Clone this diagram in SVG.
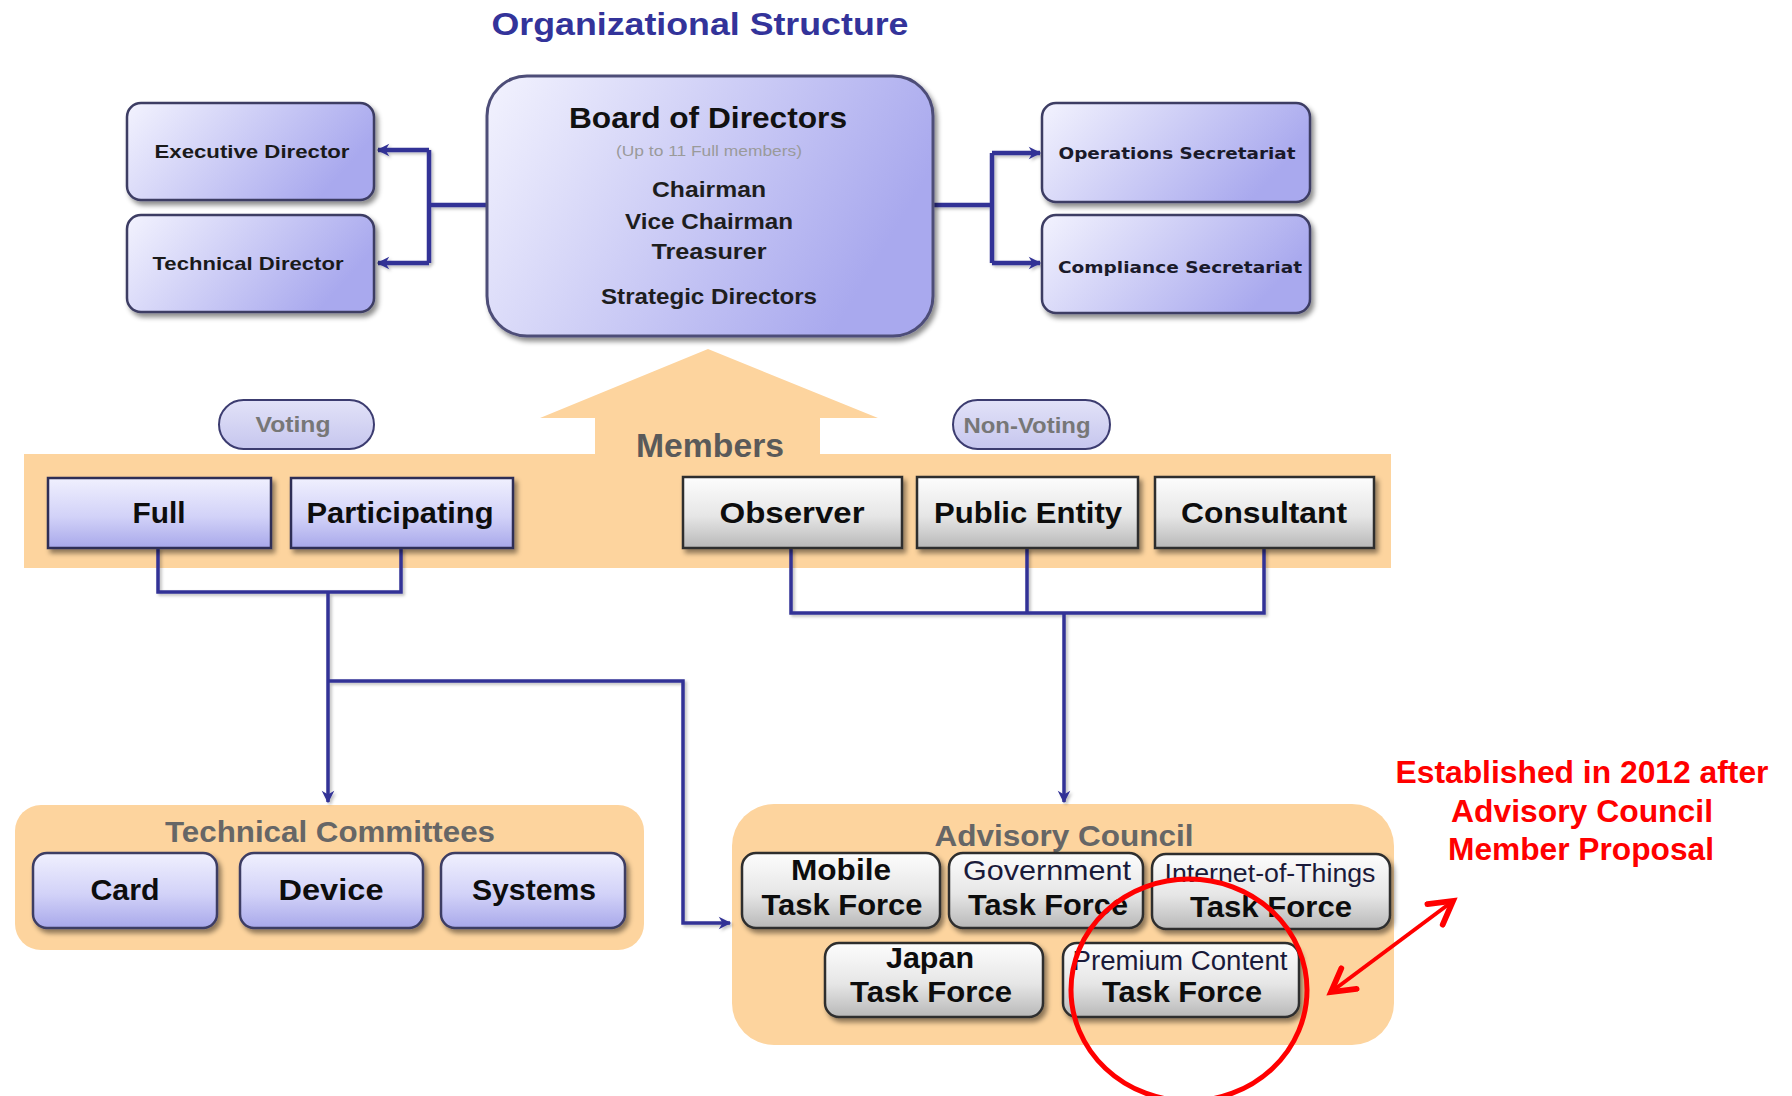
<svg xmlns="http://www.w3.org/2000/svg" width="1792" height="1096" viewBox="0 0 1792 1096">
<style>
text{font-family:"Liberation Sans",Arial,sans-serif;text-anchor:middle}
.b{font-weight:bold}
.title{font-size:32px;font-weight:bold;fill:#33339a}
.dir{font-size:19px;font-weight:bold;fill:#1a1a1a}
.sec{font-family:"DejaVu Sans","Liberation Sans",sans-serif;font-size:16.5px;font-weight:bold;fill:#1a1a2a}
.bod{font-size:22px;font-weight:bold;fill:#1e1e1e}
.mem{font-size:30px;font-weight:bold;fill:#0d0d0d}
.hdr{font-size:30px;font-weight:bold;fill:#666}
.pilltxt{font-size:22px;font-weight:bold;fill:#777}
.tf{font-size:30px;font-weight:bold;fill:#0d0d0d}
.tfr{font-weight:normal;fill:#1a1a3a}
.red{font-size:31px;font-weight:bold;fill:#ff0000}
.lav{stroke:#3c3c64;stroke-width:2.5}
.gry{stroke:#2e2e2e;stroke-width:2.5}
.panel{fill:#fdd49e}
.con{fill:none;stroke:#323296;stroke-linejoin:miter}
</style>
<defs>
<linearGradient id="gLavH" x1="0" y1="0" x2="1" y2="0.35">
<stop offset="0" stop-color="#f3f3fe"/><stop offset="1" stop-color="#a9a9ee"/>
</linearGradient>
<linearGradient id="gLavV" x1="0" y1="0" x2="0" y2="1">
<stop offset="0" stop-color="#f0f0fe"/><stop offset="0.55" stop-color="#d2d2f8"/><stop offset="1" stop-color="#a8a8ea"/>
</linearGradient>
<linearGradient id="gGray" x1="0" y1="0" x2="0" y2="1">
<stop offset="0" stop-color="#fdfdfd"/><stop offset="0.55" stop-color="#e6e6e6"/><stop offset="1" stop-color="#b8b8b8"/>
</linearGradient>
<linearGradient id="gPill" x1="0" y1="0" x2="0" y2="1">
<stop offset="0" stop-color="#e2e2f8"/><stop offset="1" stop-color="#c6c6ee"/>
</linearGradient>
<filter id="sh" x="-10%" y="-10%" width="125%" height="135%">
<feDropShadow dx="3" dy="4" stdDeviation="2.5" flood-color="#000" flood-opacity="0.45"/>
</filter>
<filter id="lsh" x="-5%" y="-5%" width="115%" height="115%">
<feDropShadow dx="2" dy="2" stdDeviation="1.5" flood-color="#000" flood-opacity="0.25"/>
</filter>
<marker id="ah" viewBox="0 0 12 12" refX="10" refY="6" markerWidth="15" markerHeight="15" markerUnits="userSpaceOnUse" orient="auto">
<path d="M1,1 L11,6 L1,11 L4,6 z" fill="#323296"/>
</marker>
<marker id="ahr" viewBox="0 0 10 10" refX="8" refY="5" markerWidth="8" markerHeight="8" orient="auto-start-reverse">
<path d="M1,1 L8,5 L1,9" fill="none" stroke="#ff0000" stroke-width="1.8" stroke-linecap="round"/>
</marker>
</defs>

<rect width="1792" height="1096" fill="#ffffff"/>

<text class="title" x="700" y="35" textLength="417" lengthAdjust="spacingAndGlyphs">Organizational  Structure</text>

<!-- Members band and up arrow -->
<g id="members-band">
<rect class="panel" x="24" y="454" width="1367" height="114"/>
<polygon class="panel" points="540,418 708,349 878,418 820,418 820,455 595,455 595,418"/>
<text class="hdr" x="710" y="457" textLength="148" lengthAdjust="spacingAndGlyphs" style="font-size:33px;fill:#5a5a5a">Members</text>
</g>

<!-- panels -->
<g id="technical-committees">
<rect class="panel" x="15" y="805" width="629" height="145" rx="26"/>
<text class="hdr" x="330" y="842" textLength="330" lengthAdjust="spacingAndGlyphs">Technical Committees</text>
</g>
<g id="advisory-council">
<rect class="panel" x="732" y="804" width="662" height="241" rx="42"/>
<text class="hdr" x="1064" y="846" textLength="259" lengthAdjust="spacingAndGlyphs">Advisory  Council</text>
</g>

<!-- connectors -->
<g id="connectors" filter="url(#lsh)">
<path class="con" stroke-width="4.5" d="M487,205 H429 M429,150 V263"/>
<path class="con" stroke-width="4.5" d="M429,150 H378" marker-end="url(#ah)"/>
<path class="con" stroke-width="4.5" d="M429,263 H378" marker-end="url(#ah)"/>
<path class="con" stroke-width="4.5" d="M933,205 H992 M992,153 V263"/>
<path class="con" stroke-width="4.5" d="M992,153 H1040" marker-end="url(#ah)"/>
<path class="con" stroke-width="4.5" d="M992,263 H1040" marker-end="url(#ah)"/>
<path class="con" stroke-width="3.5" d="M158,548 V592 H401 V548"/>
<path class="con" stroke-width="3.5" d="M328,592 V802" marker-end="url(#ah)"/>
<path class="con" stroke-width="3.5" d="M328,681 H683 V923 H730" marker-end="url(#ah)"/>
<path class="con" stroke-width="3.5" d="M791,548 V613 H1264 V548 M1027,548 V613"/>
<path class="con" stroke-width="3.5" d="M1064,613 V802" marker-end="url(#ah)"/>
</g>

<!-- top nodes -->
<g id="executive-director">
<rect class="lav" x="127" y="103" width="247" height="97" rx="14" fill="url(#gLavH)" filter="url(#sh)"/>
<text class="dir" x="252" y="158" textLength="195" lengthAdjust="spacingAndGlyphs">Executive Director</text>
</g>
<g id="technical-director">
<rect class="lav" x="127" y="215" width="247" height="97" rx="14" fill="url(#gLavH)" filter="url(#sh)"/>
<text class="dir" x="248" y="270" textLength="191" lengthAdjust="spacingAndGlyphs">Technical Director</text>
</g>
<g id="board-of-directors">
<rect x="487" y="76" width="446" height="260" rx="40" fill="url(#gLavH)" stroke="#4e4e78" stroke-width="3" filter="url(#sh)"/>
<text class="b" x="708" y="128" style="font-size:30px;fill:#111" textLength="278" lengthAdjust="spacingAndGlyphs">Board of Directors</text>
<text x="709" y="156" style="font-size:15px;fill:#9a9a9a" textLength="186" lengthAdjust="spacingAndGlyphs">(Up to 11  Full members)</text>
<text class="bod" x="709" y="197" textLength="114" lengthAdjust="spacingAndGlyphs">Chairman</text>
<text class="bod" x="709" y="229" textLength="168" lengthAdjust="spacingAndGlyphs">Vice Chairman</text>
<text class="bod" x="709" y="259" textLength="115" lengthAdjust="spacingAndGlyphs">Treasurer</text>
<text class="bod" x="709" y="304" textLength="216" lengthAdjust="spacingAndGlyphs">Strategic Directors</text>
</g>
<g id="operations-secretariat">
<rect class="lav" x="1042" y="103" width="268" height="99" rx="14" fill="url(#gLavH)" filter="url(#sh)"/>
<text class="sec" x="1177" y="159" textLength="237" lengthAdjust="spacingAndGlyphs">Operations  Secretariat</text>
</g>
<g id="compliance-secretariat">
<rect class="lav" x="1042" y="215" width="268" height="98" rx="14" fill="url(#gLavH)" filter="url(#sh)"/>
<text class="sec" x="1180" y="273" textLength="244" lengthAdjust="spacingAndGlyphs">Compliance  Secretariat</text>
</g>

<!-- pills -->
<g id="voting">
<rect x="219" y="400" width="155" height="49" rx="24.5" fill="url(#gPill)" stroke="#3c3c70" stroke-width="2"/>
<text class="pilltxt" x="293" y="432" textLength="75" lengthAdjust="spacingAndGlyphs">Voting</text>
</g>
<g id="non-voting">
<rect x="953" y="400" width="157" height="49" rx="24.5" fill="url(#gPill)" stroke="#3c3c70" stroke-width="2"/>
<text class="pilltxt" x="1027" y="433" textLength="127" lengthAdjust="spacingAndGlyphs">Non-Voting</text>
</g>

<!-- member boxes -->
<g id="full">
<rect x="48" y="478" width="223" height="70" fill="url(#gLavV)" stroke="#2e2e56" stroke-width="2.5" filter="url(#sh)"/>
<text class="mem" x="159" y="523" textLength="53" lengthAdjust="spacingAndGlyphs">Full</text>
</g>
<g id="participating">
<rect x="291" y="478" width="222" height="70" fill="url(#gLavV)" stroke="#2e2e56" stroke-width="2.5" filter="url(#sh)"/>
<text class="mem" x="400" y="523" textLength="187" lengthAdjust="spacingAndGlyphs">Participating</text>
</g>
<g id="observer">
<rect class="gry" x="683" y="477" width="219" height="71" fill="url(#gGray)" filter="url(#sh)"/>
<text class="mem" x="792" y="523" textLength="145" lengthAdjust="spacingAndGlyphs">Observer</text>
</g>
<g id="public-entity">
<rect class="gry" x="917" y="477" width="221" height="71" fill="url(#gGray)" filter="url(#sh)"/>
<text class="mem" x="1028" y="523" textLength="188" lengthAdjust="spacingAndGlyphs">Public Entity</text>
</g>
<g id="consultant">
<rect class="gry" x="1155" y="477" width="219" height="71" fill="url(#gGray)" filter="url(#sh)"/>
<text class="mem" x="1264" y="523" textLength="166" lengthAdjust="spacingAndGlyphs">Consultant</text>
</g>

<!-- technical committee boxes -->
<g id="card">
<rect class="lav" x="33" y="853" width="184" height="75" rx="14" fill="url(#gLavV)" filter="url(#sh)"/>
<text class="tf" x="125" y="900" textLength="69" lengthAdjust="spacingAndGlyphs">Card</text>
</g>
<g id="device">
<rect class="lav" x="240" y="853" width="183" height="75" rx="14" fill="url(#gLavV)" filter="url(#sh)"/>
<text class="tf" x="331" y="900" textLength="105" lengthAdjust="spacingAndGlyphs">Device</text>
</g>
<g id="systems">
<rect class="lav" x="441" y="853" width="184" height="75" rx="14" fill="url(#gLavV)" filter="url(#sh)"/>
<text class="tf" x="534" y="900" textLength="124" lengthAdjust="spacingAndGlyphs">Systems</text>
</g>

<!-- advisory council boxes -->
<g id="mobile-task-force">
<rect class="gry" x="742" y="853" width="198" height="75" rx="14" fill="url(#gGray)" filter="url(#sh)"/>
<text class="tf" x="841" y="880" textLength="100" lengthAdjust="spacingAndGlyphs">Mobile</text>
<text class="tf" x="842" y="915" textLength="161" lengthAdjust="spacingAndGlyphs">Task Force</text>
</g>
<g id="government-task-force">
<rect class="gry" x="949" y="853" width="194" height="75" rx="14" fill="url(#gGray)" filter="url(#sh)"/>
<text class="tf tfr" x="1047" y="880" style="font-size:28px" textLength="168" lengthAdjust="spacingAndGlyphs">Government</text>
<text class="tf" x="1048" y="915" textLength="160" lengthAdjust="spacingAndGlyphs">Task Force</text>
</g>
<g id="iot-task-force">
<rect class="gry" x="1152" y="854" width="238" height="75" rx="14" fill="url(#gGray)" filter="url(#sh)"/>
<text class="tf tfr" x="1270" y="882" style="font-size:26px" textLength="211" lengthAdjust="spacingAndGlyphs">Internet-of-Things</text>
<text class="tf" x="1271" y="917" textLength="162" lengthAdjust="spacingAndGlyphs">Task Force</text>
</g>
<g id="japan-task-force">
<rect class="gry" x="825" y="943" width="218" height="74" rx="14" fill="url(#gGray)" filter="url(#sh)"/>
<text class="tf" x="930" y="968" textLength="88" lengthAdjust="spacingAndGlyphs">Japan</text>
<text class="tf" x="931" y="1002" textLength="162" lengthAdjust="spacingAndGlyphs">Task Force</text>
</g>
<g id="premium-content-task-force">
<rect class="gry" x="1063" y="943" width="236" height="74" rx="14" fill="url(#gGray)" filter="url(#sh)"/>
<text class="tf tfr" x="1180" y="970" style="font-size:27px" textLength="215" lengthAdjust="spacingAndGlyphs">Premium Content</text>
<text class="tf" x="1182" y="1002" textLength="160" lengthAdjust="spacingAndGlyphs">Task Force</text>
</g>

<!-- annotation -->
<g id="annotation">
<ellipse cx="1189" cy="990" rx="118" ry="111" fill="none" stroke="#ff0000" stroke-width="5"/>
<line x1="1331" y1="992" x2="1453" y2="901" stroke="#ff0000" stroke-width="4" marker-start="url(#ahr)" marker-end="url(#ahr)"/>
<text class="red" x="1582" y="783" textLength="373" lengthAdjust="spacingAndGlyphs">Established in 2012 after</text>
<text class="red" x="1582" y="822" textLength="262" lengthAdjust="spacingAndGlyphs">Advisory Council</text>
<text class="red" x="1581" y="860" textLength="266" lengthAdjust="spacingAndGlyphs">Member Proposal</text>
</g>
</svg>
